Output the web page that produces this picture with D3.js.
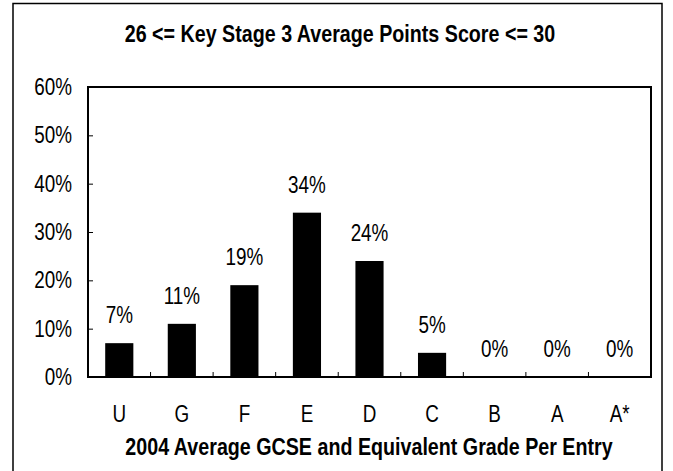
<!DOCTYPE html>
<html>
<head>
<meta charset="utf-8">
<script src="https://cdn.jsdelivr.net/npm/d3@7"></script>
<style>
	body { margin: 0; background: #fff; }
	svg { display: block; }
	text { font-family: "Liberation Sans", Arial, sans-serif; fill: #000; }
	.title, .axis-title { font-weight: bold; }
</style>
</head>
<body>
<script>
const grades = ["U", "G", "F", "E", "D", "C", "B", "A", "A*"];
const shares = [7, 11, 19, 34, 24, 5, 0, 0, 0];
const yTicks = [0, 10, 20, 30, 40, 50, 60];

const chartTitle = "26 <= Key Stage 3 Average Points Score <= 30";
const xTitle = "2004 Average GCSE and Equivalent Grade Per Entry";

const config = {
	width: 673,
	height: 471,
	plot: { left: 88, right: 651, top: 87, bottom: 377 },
	tickSize: 5,
	labelGap: 20,
	narrow: 0.82 // no narrow font installed, so squeeze the regular one
};

const svg = d3
	.select("body")
	.append("svg")
	.attr("width", config.width)
	.attr("height", config.height);

const plot = config.plot;

// place text at (px, py) and squeeze it horizontally
const squeeze = (px, py) => `translate(${px},${py}) scale(${config.narrow},1)`;

const x = d3
	.scaleBand()
	.domain(grades)
	.range([plot.left, plot.right])
	.paddingInner(0.55)
	.paddingOuter(0.275);

const y = d3.scaleLinear().domain([0, 60]).range([plot.bottom, plot.top]);

// outer frame (bottom edge runs off the picture)
svg
	.append("rect")
	.attr("x", 13)
	.attr("y", 3.5)
	.attr("width", 649)
	.attr("height", 480)
	.attr("fill", "none")
	.attr("stroke", "#000")
	.attr("stroke-width", 1.5);

svg
	.append("text")
	.attr("class", "title")
	.attr("transform", squeeze(340, 42))
	.attr("text-anchor", "middle")
	.style("font-size", "24px")
	.text(chartTitle);

// bars
svg
	.selectAll(".bar")
	.data(grades)
	.join("rect")
	.attr("class", "bar")
	.attr("x", d => x(d))
	.attr("width", x.bandwidth())
	.attr("y", (d, i) => y(shares[i]))
	.attr("height", (d, i) => y(0) - y(shares[i]))
	.attr("fill", "#000");

// value labels
svg
	.selectAll(".value")
	.data(grades)
	.join("text")
	.attr("class", "value")
	.attr("transform", (d, i) =>
		squeeze(x(d) + x.bandwidth() / 2, y(shares[i]) - config.labelGap)
	)
	.attr("text-anchor", "middle")
	.style("font-size", "23px")
	.text((d, i) => shares[i] + "%");

// plot box
svg
	.append("rect")
	.attr("x", plot.left)
	.attr("y", plot.top)
	.attr("width", plot.right - plot.left)
	.attr("height", plot.bottom - plot.top)
	.attr("fill", "none")
	.attr("stroke", "#000")
	.attr("stroke-width", 2);

// y axis, ticks pointing inward
const yAxis = svg
	.append("g")
	.attr("transform", `translate(${plot.left},0)`)
	.call(
		d3.axisLeft(y)
			.tickValues(yTicks)
			.tickSize(-config.tickSize)
			.tickFormat(d => d + "%")
	);
yAxis.select(".domain").remove();
yAxis.selectAll("line").attr("stroke", "#000");
yAxis
	.selectAll("text")
	.attr("x", null)
	.attr("transform", squeeze(-16, 0))
	.style("font-size", "23px")
	.attr("font-family", null);

// x axis: ticks sit between the categories
const step = x.step();
const boundaries = d3.range(1, grades.length).map(i => plot.left + i * step);
svg
	.selectAll(".x-tick")
	.data(boundaries)
	.join("line")
	.attr("class", "x-tick")
	.attr("x1", d => d)
	.attr("x2", d => d)
	.attr("y1", plot.bottom)
	.attr("y2", plot.bottom - config.tickSize)
	.attr("stroke", "#000");

svg
	.selectAll(".x-label")
	.data(grades)
	.join("text")
	.attr("class", "x-label")
	.attr("transform", d => squeeze(x(d) + x.bandwidth() / 2, 422))
	.attr("text-anchor", "middle")
	.style("font-size", "23px")
	.text(d => d);

svg
	.append("text")
	.attr("class", "axis-title")
	.attr("transform", squeeze(369, 455))
	.attr("text-anchor", "middle")
	.style("font-size", "24px")
	.text(xTitle);
</script>
</body>
</html>
